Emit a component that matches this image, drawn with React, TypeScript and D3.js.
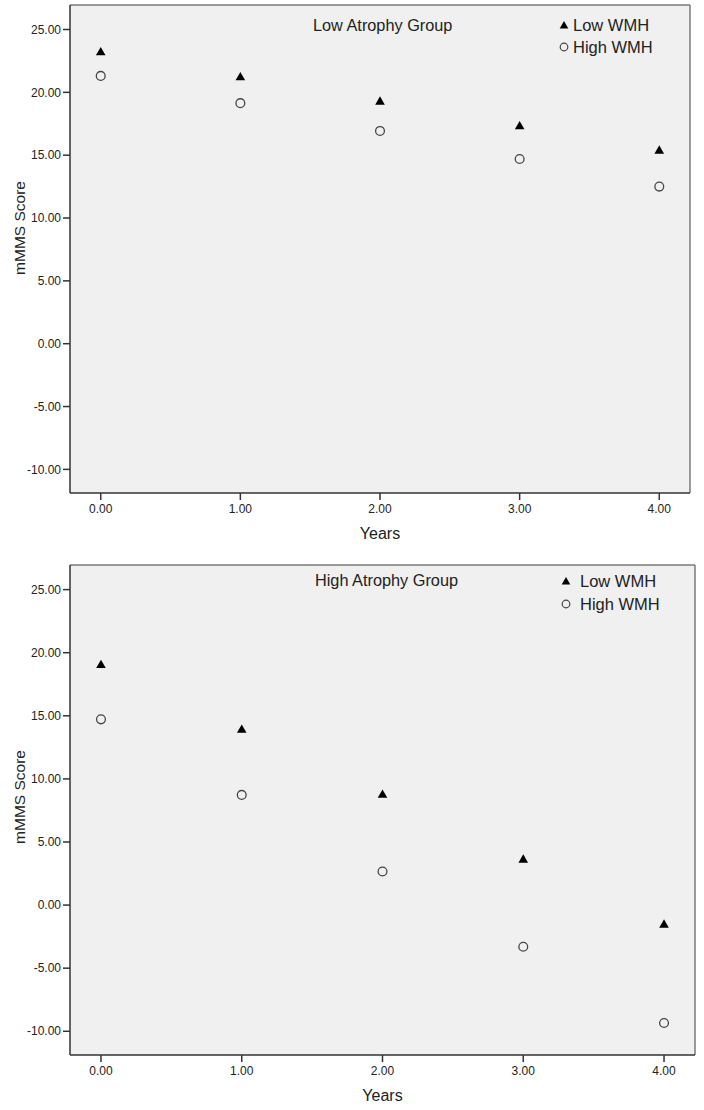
import React from "react";
import * as d3 from "d3";

const years = [0, 1, 2, 3, 4];
const yTicks = [25, 20, 15, 10, 5, 0, -5, -10];
const seriesNames = ["Low WMH", "High WMH"];
const groupTitles = ["Low Atrophy Group", "High Atrophy Group"];
const lowAtrophyLowWMH = [23.25, 21.26, 19.32, 17.36, 15.42];
const lowAtrophyHighWMH = [21.31, 19.14, 16.93, 14.7, 12.5];
const highAtrophyLowWMH = [19.09, 13.95, 8.8, 3.66, -1.49];
const highAtrophyHighWMH = [14.72, 8.73, 2.66, -3.3, -9.34];

const FONT = "'Liberation Sans', Arial, sans-serif";

const panels = [
  {
    title: groupTitles[0],
    low: lowAtrophyLowWMH,
    high: lowAtrophyHighWMH,
    left: 70, right: 690, top: 5, bottom: 493,
    titleX: 313, titleY: 25,
    legX: 564, legTextX: 573, legY1: 25, legY2: 47,
    ylabelY: 228,
  },
  {
    title: groupTitles[1],
    low: highAtrophyLowWMH,
    high: highAtrophyHighWMH,
    left: 70, right: 695, top: 565, bottom: 1055,
    titleX: 315, titleY: 580,
    legX: 566, legTextX: 580, legY1: 581, legY2: 604,
    ylabelY: 797,
  },
];

const tri = d3.symbol().type(d3.symbolTriangle).size(40)();
const triLeg = d3.symbol().type(d3.symbolTriangle).size(32)();
const fmt = (v: number) => d3.format(".2f")(v).replace("\u2212", "-");

function Panel({ p }: { p: (typeof panels)[number] }) {
  const x = d3.scaleLinear().domain([-0.22, 4.22]).range([p.left, p.right]);
  const y = d3.scaleLinear().domain([-11.88, 26.95]).range([p.bottom, p.top]);
  return (
    <g>
      <rect x={p.left} y={p.top} width={p.right - p.left} height={p.bottom - p.top} fill="#f0f0f0" />
      <line x1={p.left} x2={p.right} y1={p.top} y2={p.top} stroke="#7a7a7a" strokeWidth={1.5} />
      <line x1={p.right} x2={p.right} y1={p.top} y2={p.bottom} stroke="#7a7a7a" strokeWidth={1.5} />
      <line x1={p.left} x2={p.left} y1={p.top} y2={p.bottom} stroke="#333" strokeWidth={1.5} />
      <line x1={p.left} x2={p.right} y1={p.bottom} y2={p.bottom} stroke="#333" strokeWidth={1.5} />
      {yTicks.map((t) => (
        <g key={"y" + t}>
          <line x1={p.left - 7} x2={p.left} y1={y(t)} y2={y(t)} stroke="#333" strokeWidth={1.5} />
          <text x={p.left - 9} y={y(t)} dy="0.35em" textAnchor="end" fontSize={12} fontFamily={FONT} fill="#222">
            {fmt(t)}
          </text>
        </g>
      ))}
      {years.map((t) => (
        <g key={"x" + t}>
          <line x1={x(t)} x2={x(t)} y1={p.bottom} y2={p.bottom + 7} stroke="#333" strokeWidth={1.5} />
          <text x={x(t)} y={p.bottom + 16} dy="0.35em" textAnchor="middle" fontSize={12} fontFamily={FONT} fill="#222">
            {fmt(t)}
          </text>
        </g>
      ))}
      <text x={(p.left + p.right) / 2} y={p.bottom + 40} dy="0.35em" textAnchor="middle" fontSize={16} fontFamily={FONT} fill="#222">
        Years
      </text>
      <text
        transform={`translate(20,${p.ylabelY}) rotate(-90)`}
        dy="0.35em"
        textAnchor="middle"
        fontSize={15.5}
        fontFamily={FONT}
        fill="#222"
      >
        mMMS Score
      </text>
      <text x={p.titleX} y={p.titleY} dy="0.35em" fontSize={16.3} fontFamily={FONT} fill="#222">
        {p.title}
      </text>
      <path d={triLeg} transform={`translate(${p.legX},${p.legY1 + 1})`} fill="#000" />
      <text x={p.legTextX} y={p.legY1} dy="0.35em" fontSize={16.5} fontFamily={FONT} fill="#222">
        {seriesNames[0]}
      </text>
      <circle cx={p.legX} cy={p.legY2} r={3.8} fill="none" stroke="#444" strokeWidth={1.2} />
      <text x={p.legTextX} y={p.legY2} dy="0.35em" fontSize={16.5} fontFamily={FONT} fill="#222">
        {seriesNames[1]}
      </text>
      {years.map((t, i) => (
        <path key={"l" + i} d={tri} transform={`translate(${x(t)},${y(p.low[i]) + 1})`} fill="#000" />
      ))}
      {years.map((t, i) => (
        <circle key={"h" + i} cx={x(t)} cy={y(p.high[i])} r={4.4} fill="none" stroke="#444" strokeWidth={1.3} />
      ))}
    </g>
  );
}

export default function App() {
  return (
    <svg
      width={704}
      height={1110}
      style={{ position: "absolute", left: 0, top: 0, background: "#fff" }}
    >
      <rect width={704} height={1110} fill="#fff" />
      {panels.map((p, i) => (
        <Panel key={i} p={p} />
      ))}
    </svg>
  );
}
